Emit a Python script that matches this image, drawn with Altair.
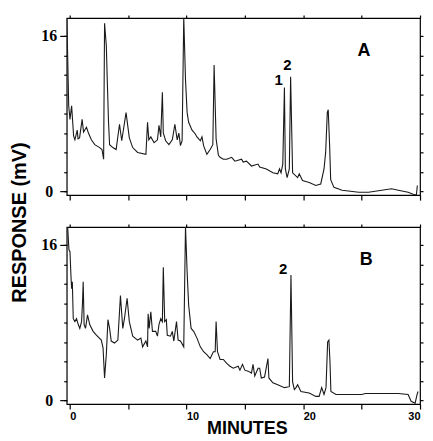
import altair as alt
import pandas as pd

# ---- Panel A trace (minutes, mV); 17.9 = peak runs off the top of the frame ----
a_time = [-0.25, -0.17, -0.08, 0.03, 0.17, 0.34, 0.45, 0.65, 0.72, 0.85, 1.07, 1.19, 1.44, 1.61, 1.86,
          2.15, 2.57, 2.77, 2.91, 2.99, 3.14, 3.22, 3.33, 3.42, 3.70, 3.98, 4.27, 4.46, 4.83, 5.11,
          5.40, 5.82, 6.53, 6.67, 6.78, 6.95, 7.23, 7.52, 7.65, 7.80, 7.94, 8.02, 8.22, 8.50, 8.79,
          9.01, 9.21, 9.35, 9.49, 9.63, 9.77, 9.92, 10.06, 10.19, 10.48, 10.76, 10.90, 11.19, 11.33,
          11.47, 11.75, 12.03, 12.26, 12.37, 12.54, 12.74, 12.88, 13.16, 13.45, 13.87, 14.15, 14.72,
          14.86, 15.14, 15.57, 16.13, 16.27, 16.84, 17.40, 17.82, 17.97, 18.10, 18.25, 18.39, 18.47,
          18.62, 18.81, 18.92, 19.09, 19.52, 19.66, 19.94, 20.51, 21.08, 21.50, 21.78, 21.92, 22.06,
          22.14, 22.26, 22.35, 22.63, 23.33, 24.75, 25.59, 26.72, 27.57, 28.14, 28.98, 29.41, 29.69,
          29.77]
a_resp = [17.9, 14.0, 8.8, 7.4, 8.8, 5.7, 5.3, 6.3, 5.4, 5.5, 7.4, 6.1, 6.6, 6.0, 5.3,
          4.8, 4.5, 4.3, 3.3, 17.3, 15.0, 11.5, 7.1, 4.8, 4.5, 4.3, 6.9, 5.2, 8.1, 5.5,
          4.5, 4.0, 3.8, 7.1, 5.3, 5.6, 5.0, 5.3, 6.8, 5.6, 10.2, 6.0, 5.2, 4.8, 5.3,
          6.9, 5.3, 6.0, 4.7, 5.2, 17.9, 11.5, 8.1, 7.1, 6.3, 5.9, 5.6, 5.2, 5.6,
          4.7, 3.8, 4.3, 4.8, 13.0, 5.4, 3.7, 3.5, 3.3, 3.3, 3.5, 3.1, 3.3,
          3.0, 3.1, 2.6, 2.8, 2.5, 2.3, 1.9, 1.8, 2.3, 1.9, 2.8, 10.7, 2.3,
          1.4, 2.3, 11.8, 1.9, 1.4, 1.8, 1.1, 0.9, 0.6, 0.75, 2.3, 4.0, 8.1,
          8.4, 4.7, 1.2, 0.4, 0.1, -0.1, -0.1, 0.1, 0.25, 0.1, -0.1, -0.3, -0.4,
          0.6]

# ---- Panel B trace (minutes, mV) ----
b_time = [-0.17, -0.06, 0.03, 0.11, 0.17, 0.23, 0.31, 0.45, 0.59, 0.74, 0.87, 1.02, 1.10, 1.16, 1.24,
          1.36, 1.53, 1.72, 2.01, 2.29, 2.71, 2.86, 2.99, 3.14, 3.28, 3.42, 3.56, 3.84, 4.13, 4.35,
          4.55, 4.69, 4.92, 5.11, 5.40, 5.82, 6.10, 6.25, 6.53, 6.67, 6.72, 6.81, 6.95, 7.09, 7.37,
          7.52, 7.65, 7.80, 7.94, 8.02, 8.14, 8.28, 8.36, 8.64, 8.79, 8.92, 9.15, 9.29, 9.49, 9.77,
          9.92, 10.06, 10.19, 10.40, 10.62, 10.90, 11.19, 11.47, 11.75, 12.03, 12.31, 12.46, 12.54,
          12.66, 12.88, 13.16, 13.45, 13.73, 14.01, 14.43, 14.58, 14.80, 15.00, 15.28, 15.57, 15.70,
          15.85, 16.13, 16.27, 16.41, 16.69, 16.98, 17.06, 17.40, 17.82, 18.39, 18.81, 18.95, 19.09,
          19.24, 19.38, 19.52, 19.80, 20.51, 21.08, 21.36, 21.58, 21.78, 21.95, 22.09, 22.20, 22.29,
          22.37, 22.80, 25.00, 25.34, 28.14, 28.98, 29.24, 29.58, 29.75, 29.83]
b_resp = [17.9, 15.5, 15.3, 12.9, 11.5, 12.2, 8.4, 8.1, 8.4, 7.8, 7.4, 8.1, 10.0, 12.2, 7.8,
          7.4, 8.8, 7.8, 7.1, 6.7, 6.2, 5.4, 2.3, 4.7, 8.3, 7.4, 6.1, 5.9, 6.2, 10.8,
          7.4, 8.4, 10.5, 8.1, 6.6, 6.2, 6.4, 5.5, 6.1, 5.5, 8.9, 7.4, 9.1, 7.1, 7.1,
          6.6, 7.8, 8.4, 8.1, 13.7, 8.1, 8.3, 6.7, 6.6, 7.1, 6.1, 8.1, 6.2, 6.1, 5.5,
          17.9, 13.2, 9.8, 7.4, 7.1, 6.4, 5.5, 5.0, 4.7, 4.3, 5.0, 5.0, 8.1,
          5.0, 4.2, 4.2, 3.8, 3.5, 3.3, 3.5, 3.1, 3.7, 3.1, 3.0, 2.8, 3.7,
          2.5, 3.3, 3.3, 2.3, 2.4, 4.3, 2.3, 1.8, 1.6, 1.3, 1.4, 12.9, 1.9,
          1.1, 1.3, 1.6, 0.9, 0.75, 0.4, 0.4, 1.3, 0.6, 1.3, 6.0, 6.2, 4.0,
          0.9, 0.6, 0.6, 0.7, 0.7, 0.6, -0.1, -0.3, 0.6, 0.9]

x_ticks = [0, 5, 10, 15, 20, 25, 30]
y_minor = [0, 2, 4, 6, 8, 10, 12, 14, 16]
y_major = [0, 16]

panel_letters = ["A", "B"]
peaks_a = ["1", "2"]
peaks_b = ["2"]

X_DOM = [-0.25, 30]
Y_DOM = [-0.4, 17.85]
W, H = 355, 178
SANS = "Liberation Sans"
SERIF = "Liberation Serif"


def panel(time, resp, letter, letter_pos, peak_labels, peak_pos, bottom):
    df = pd.DataFrame({"t": time, "v": resp})
    xs = alt.Scale(domain=X_DOM, nice=False, zero=False)
    ys = alt.Scale(domain=Y_DOM, nice=False, zero=False)
    tick_kw = dict(tickColor="black", tickWidth=1.2, domain=False, grid=False, offset=0)

    if bottom:
        x_axis = alt.Axis(values=x_ticks, labelExpr="datum.value % 10 === 0 ? datum.label : ''",
                          labelAlign={"condition": {"test": "datum.value >= 30", "value": "right"},
                                      "value": "left"},
                          labelBaseline="top", labelFlush=False, labelPadding=1,
                          labelFont=SANS, labelFontWeight="bold", labelFontSize=11, labelColor="black",
                          tickSize=5, title="MINUTES", titleFont=SANS, titleFontWeight="bold",
                          titleFontSize=18, titleColor="black", titleX=181, titleY=25,
                          titleBaseline="middle", titleAlign="center", **tick_kw)
    else:
        x_axis = alt.Axis(values=x_ticks, labels=False, tickSize=5, title=None, **tick_kw)

    y_kw = dict(values=y_major, labelFont=SERIF, labelFontWeight="bold", labelFontSize=16,
                labelColor="black", labelAlign="center", labelBaseline="middle", labelPadding=11,
                tickSize=7, **tick_kw)
    if letter == "A":
        y_axis = alt.Axis(title="RESPONSE (mV)", titleFont=SANS, titleFontWeight="bold",
                          titleFontSize=20, titleColor="black", titleAngle=270, titleX=-47,
                          titleY=205, titleAlign="center", titleBaseline="middle", **y_kw)
    else:
        y_axis = alt.Axis(title=None, **y_kw)

    trace = alt.Chart(df).mark_line(clip=True, color="#1a1a1a", strokeWidth=1.1).encode(
        x=alt.X("t:Q", scale=xs, axis=x_axis),
        y=alt.Y("v:Q", scale=ys, axis=y_axis),
    )
    frame = alt.Chart(df).mark_line(clip=True, opacity=0).encode(
        x=alt.X("t:Q", scale=xs, axis=alt.Axis(orient="top", values=x_ticks, labels=False,
                                                tickSize=3, title=None, **tick_kw)),
        y=alt.Y("v:Q", scale=ys, axis=alt.Axis(orient="right", values=y_minor, labels=False,
                                                tickSize=3, title=None, **tick_kw)),
    )
    let_df = pd.DataFrame({"t": [letter_pos[0]], "v": [letter_pos[1]], "lab": [letter]})
    letter_layer = alt.Chart(let_df).mark_text(font=SANS, fontWeight="bold", fontSize=18,
                                               color="black", baseline="middle").encode(
        x=alt.X("t:Q", scale=xs, axis=None),
        y=alt.Y("v:Q", scale=ys, axis=alt.Axis(orient="left", values=y_minor, labels=False,
                                                tickSize=3, title=None, **tick_kw)),
        text="lab:N",
    )
    pk_df = pd.DataFrame({"t": [p[0] for p in peak_pos], "v": [p[1] for p in peak_pos],
                          "lab": peak_labels})
    peak_layer = alt.Chart(pk_df).mark_text(font=SANS, fontWeight="bold", fontSize=15,
                                            color="black", baseline="middle").encode(
        x=alt.X("t:Q", scale=xs, axis=None),
        y=alt.Y("v:Q", scale=ys, axis=None),
        text="lab:N",
    )
    return alt.layer(trace, frame, letter_layer, peak_layer).resolve_scale(
        x="independent", y="independent").properties(width=W, height=H)


pa = panel(a_time, a_resp, panel_letters[0], (25.2, 14.4), peaks_a,
           [(17.89, 11.44), (18.65, 12.97)], False)
pb = panel(b_time, b_resp, panel_letters[1], (25.4, 14.4), peaks_b,
           [(18.27, 13.54)], True)

chart = alt.vconcat(pa, pb, spacing=32, bounds="flush").properties(
    padding={"left": 1, "top": 4, "right": 0, "bottom": 0}
).configure_view(stroke="black", strokeWidth=1.2)

chart.save("out.html", embed_options={"renderer": "svg", "actions": False})
